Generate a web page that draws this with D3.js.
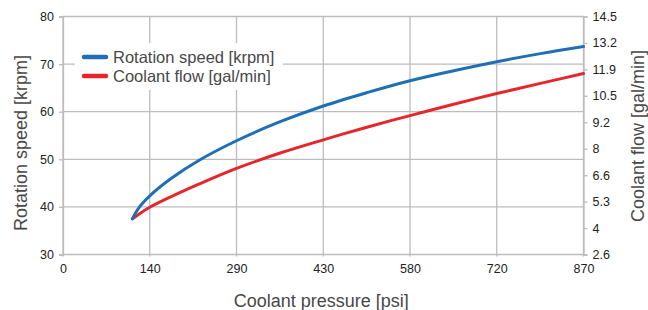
<!DOCTYPE html>
<html>
<head>
<meta charset="utf-8">
<script src="https://cdn.jsdelivr.net/npm/d3@7"></script>
<style>
  body { margin: 0; background: #fff; }
  svg { display: block; font-family: "Liberation Sans", Arial, sans-serif; }
</style>
</head>
<body>
<div id="chart"></div>
<script>
// data
const pressure = [116, 125, 145, 180, 229, 290, 363, 435, 508, 580, 653, 725, 798, 870];
const rotationSpeed = [37.5, 39.5, 42.3, 45.9, 49.9, 53.9, 57.9, 61.2, 64.0, 66.5, 68.6, 70.5, 72.2, 73.7];
const coolantFlow = [4.42, 4.62, 5.00, 5.52, 6.18, 6.94, 7.71, 8.37, 9.00, 9.58, 10.15, 10.68, 11.19, 11.68];

const xTicks = [0, 145, 290, 435, 580, 725, 870];
const xTickLabels = ['0', '140', '290', '430', '580', '720', '870'];
const leftTicks = [30, 40, 50, 60, 70, 80];
const rightTicks = [2.642, 3.963, 5.284, 6.604, 7.925, 9.246, 10.567, 11.888, 13.209, 14.529];
const rightTickLabels = ['2.6', '4', '5.3', '6.6', '8', '9.2', '10.5', '11.9', '13.2', '14.5'];

const seriesNames = ['Rotation speed [krpm]', 'Coolant flow [gal/min]'];
const seriesColors = ['#1f6fb6', '#e5272b'];

const width = 648, height = 310;
const margin = {top: 16.5, right: 64.5, bottom: 55.5, left: 63};
const gridColor = '#bcbcbc';

const svg = d3.select('#chart').append('svg')
  .attr('width', width)
  .attr('height', height);

const x = d3.scaleLinear().domain([0, 870]).range([margin.left, width - margin.right]);
const yLeft = d3.scaleLinear().domain([30, 80]).range([height - margin.bottom, margin.top]);
const yRight = d3.scaleLinear().domain([2.642, 14.529]).range([height - margin.bottom, margin.top]);

// grid
const grid = svg.append('g');
grid.selectAll('.hgrid').data(leftTicks).enter().append('line')
  .attr('x1', x(0)).attr('x2', x(870))
  .attr('y1', d => yLeft(d)).attr('y2', d => yLeft(d))
  .attr('stroke', gridColor).attr('stroke-width', 1.3);
grid.selectAll('.vgrid').data(xTicks).enter().append('line')
  .attr('x1', d => x(d)).attr('x2', d => x(d))
  .attr('y1', yLeft(80)).attr('y2', yLeft(30) + 2)
  .attr('stroke', gridColor).attr('stroke-width', 1.3);

// left axis
const leftAxis = svg.append('g')
  .attr('transform', `translate(${margin.left},0)`)
  .call(d3.axisLeft(yLeft).tickValues(leftTicks).tickSize(4).tickPadding(5));
leftAxis.select('.domain').attr('stroke', gridColor).attr('stroke-width', 1.3);

// right axis
const rightAxis = svg.append('g')
  .attr('transform', `translate(${width - margin.right},0)`)
  .call(d3.axisRight(yRight).tickValues(rightTicks)
    .tickFormat((d, i) => rightTickLabels[i]).tickSize(4).tickPadding(5));
rightAxis.select('.domain').attr('stroke', gridColor).attr('stroke-width', 1.3);

// bottom axis labels
const bottomAxis = svg.append('g')
  .attr('transform', `translate(0,${height - margin.bottom})`)
  .call(d3.axisBottom(x).tickValues(xTicks)
    .tickFormat((d, i) => xTickLabels[i]).tickSize(0).tickPadding(10));
bottomAxis.select('.domain').remove();

svg.selectAll('.tick line').attr('stroke', gridColor).attr('stroke-width', 1.3);
svg.selectAll('.tick text')
  .attr('fill', '#222')
  .style('font-size', '12.5px')
  .style('font-family', '"Liberation Sans", Arial, sans-serif');

// axis titles
svg.append('text')
  .attr('x', (x(0) + x(870)) / 2 - 2).attr('y', 307)
  .attr('text-anchor', 'middle')
  .attr('fill', '#484848')
  .style('font-size', '18px')
  .text('Coolant pressure [psi]');

svg.append('text')
  .attr('transform', 'translate(27,143) rotate(-90)')
  .attr('text-anchor', 'middle')
  .attr('fill', '#484848')
  .style('font-size', '18px')
  .text('Rotation speed [krpm]');

svg.append('text')
  .attr('transform', 'translate(644,136) rotate(-90)')
  .attr('text-anchor', 'middle')
  .attr('fill', '#484848')
  .style('font-size', '18px')
  .text('Coolant flow [gal/min]');

// lines
const blueLine = d3.line()
  .x((d, i) => x(pressure[i]))
  .y(d => yLeft(d))
  .curve(d3.curveCatmullRom.alpha(0.5));
const redLine = d3.line()
  .x((d, i) => x(pressure[i]))
  .y(d => yRight(d))
  .curve(d3.curveCatmullRom.alpha(0.5));

svg.append('path')
  .datum(coolantFlow)
  .attr('d', redLine)
  .attr('fill', 'none')
  .attr('stroke', seriesColors[1])
  .attr('stroke-width', 3)
  .attr('stroke-linecap', 'round');

svg.append('path')
  .datum(rotationSpeed)
  .attr('d', blueLine)
  .attr('fill', 'none')
  .attr('stroke', seriesColors[0])
  .attr('stroke-width', 3)
  .attr('stroke-linecap', 'round');

// legend
const legend = svg.append('g');
legend.append('rect')
  .attr('x', 75).attr('y', 43)
  .attr('width', 208).attr('height', 47)
  .attr('fill', '#fff');
const items = legend.selectAll('.item').data(seriesNames).enter().append('g')
  .attr('transform', (d, i) => `translate(0,${57 + i * 19})`);
items.append('line')
  .attr('x1', 84).attr('x2', 106)
  .attr('stroke', (d, i) => seriesColors[i])
  .attr('stroke-width', 4.5)
  .attr('stroke-linecap', 'round');
items.append('text')
  .attr('x', 113).attr('y', 5.5)
  .attr('fill', '#484848')
  .style('font-size', '16.5px')
  .text(d => d);
</script>
</body>
</html>
